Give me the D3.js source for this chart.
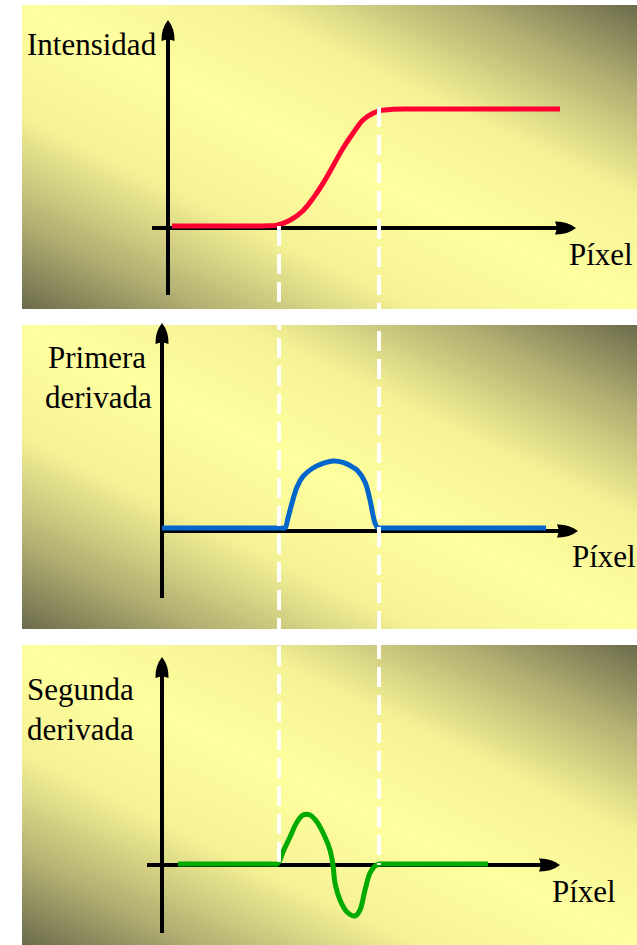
<!DOCTYPE html>
<html>
<head>
<meta charset="utf-8">
<script src="https://cdn.jsdelivr.net/npm/d3@7"></script>
<style>
  body { margin: 0; background: #fff; }
  svg { display: block; }
  text { font-family: 'Liberation Serif', 'Times New Roman', serif; font-size: 31px; fill: #000; }
</style>
</head>
<body>
<svg></svg>
<script>
// position along the pixel profile (shared by the three plots)
const edgeStart = 10;
const edgeEnd = 20;

// intensity profile (0 = dark, 100 = bright)
const intensityX = [-0.7, 5, 9, 9.8, 11.1, 12.4, 13.4, 14.4, 15.4, 16.4, 17.4, 18.4, 19.4, 20.1, 21.4, 23, 38.1];
const intensityY = [1.7, 1.7, 1.8, 2.4, 6.5, 14.5, 24.9, 37.5, 52.1, 67, 79.6, 90.8, 96.4, 98.6, 99.7, 100, 100];

// first derivative
const firstX = [-1.7, 10.2, 10.6, 10.9, 11.3, 11.8, 12.4, 13.4, 14.4, 15.4, 16.4, 17.4, 17.8, 18.6, 19.1, 19.6, 19.9, 20.3, 36.7];
const firstY = [4.3, 4.3, 4.3, 18.6, 40, 62.9, 78, 90, 96.5, 100, 98, 91, 87, 70, 44.3, 11.4, 4.3, 4.3, 4.3];

// second derivative
const secondX = [-0.1, 9.3, 9.8, 10.1, 10.4, 11.1, 11.8, 12.4, 13.1, 13.8, 14.6, 15.1, 15.4, 15.6, 16.1, 16.8, 17.6, 18.1, 18.6, 19.1, 19.6, 20.1, 20.6, 30.9];
const secondY = [2, 2, 2, 10, 26, 56, 86, 100, 100, 86, 56, 30, 0, -36, -70, -94, -102, -90, -50, -16, -2, 2, 2, 2];

const yLabels = [['Intensidad'], ['Primera', 'derivada'], ['Segunda', 'derivada']];
const xLabel = 'Píxel';

const width = 637, height = 945;

const svg = d3.select('svg')
  .attr('width', width)
  .attr('height', height);

const grad = svg.append('defs').append('linearGradient')
  .attr('id', 'bg')
  .attr('x1', 1).attr('y1', 0).attr('x2', 0).attr('y2', 1);
[[0, '#6b6b4c'], [0.15, '#b4b173'], [0.32, '#f5f295'], [0.5, '#ffff9f'],
 [0.68, '#f5f295'], [0.85, '#b4b173'], [1, '#6b6b4c']].forEach(([o, c]) => {
  grad.append('stop').attr('offset', o).attr('stop-color', c);
});

const xScale = d3.scaleLinear().domain([0, 40]).range([179, 579]);

const panels = [
  {top: 5, bottom: 309, y: d3.scaleLinear().domain([0, 100]).range([228, 109]),
   xs: intensityX, ys: intensityY, color: '#ff0033',
   axisX: 168, axisTop: 20, axisBottom: 295, axisFrom: 152, axisTo: 576,
   label: {x: 27, y: 55}, pixel: {x: 569, y: 265}},
  {top: 325, bottom: 629, y: d3.scaleLinear().domain([0, 100]).range([531, 461]),
   xs: firstX, ys: firstY, color: '#0066cc',
   axisX: 162, axisTop: 323, axisBottom: 598, axisFrom: 162, axisTo: 578,
   label: {x: 48, y: 368}, pixel: {x: 572, y: 567}},
  {top: 645, bottom: 945, y: d3.scaleLinear().domain([-100, 100]).range([915, 815]),
   xs: secondX, ys: secondY, color: '#00aa00',
   axisX: 162, axisTop: 657, axisBottom: 933, axisFrom: 147, axisTo: 560,
   label: {x: 27, y: 700}, pixel: {x: 552, y: 902}}
];

// arrow head pointing right with the tip at 0,0
const arrowHead = 'M0,0 Q-9,-7 -21,-6.5 Q-18,0 -21,6.5 Q-9,7 0,0 Z';

panels.forEach((p, i) => {
  const g = svg.append('g');

  g.append('rect')
    .attr('x', 22).attr('y', p.top)
    .attr('width', width - 22).attr('height', p.bottom - p.top)
    .attr('fill', 'url(#bg)');

  const y0 = p.y(0);

  // axes
  g.append('line')
    .attr('x1', p.axisFrom).attr('x2', p.axisTo - 15)
    .attr('y1', y0).attr('y2', y0)
    .attr('stroke', '#000').attr('stroke-width', 4);
  g.append('path')
    .attr('d', arrowHead)
    .attr('transform', `translate(${p.axisTo},${y0})`);

  g.append('line')
    .attr('x1', p.axisX).attr('x2', p.axisX)
    .attr('y1', p.axisTop + 15).attr('y2', p.axisBottom)
    .attr('stroke', '#000').attr('stroke-width', 4);
  g.append('path')
    .attr('d', arrowHead)
    .attr('transform', `translate(${p.axisX},${p.axisTop}) rotate(-90)`);

  const line = d3.line()
    .x(d => xScale(d[0]))
    .y(d => p.y(d[1]))
    .curve(d3.curveCatmullRom.alpha(0.5));

  g.append('path')
    .attr('d', line(d3.zip(p.xs, p.ys)))
    .attr('fill', 'none')
    .attr('stroke', p.color)
    .attr('stroke-width', 5)
    .attr('stroke-linejoin', 'round');

  const lbl = g.append('text')
    .attr('x', p.label.x).attr('y', p.label.y);
  yLabels[i].forEach((t, j) => {
    lbl.append('tspan')
      .attr('x', j === 0 ? p.label.x : p.label.x - (i === 1 ? 3 : 0))
      .attr('dy', j === 0 ? 0 : 40)
      .text(t);
  });

  g.append('text')
    .attr('x', p.pixel.x).attr('y', p.pixel.y)
    .text(xLabel);
});

// dashed guides at the edge limits, running down to the last axis
const last = panels[2].y(0);
[[edgeStart, panels[0].y(0) - 2], [edgeEnd, panels[0].y(100) - 2]].forEach(([e, top]) => {
  svg.append('line')
    .attr('x1', xScale(e)).attr('x2', xScale(e))
    .attr('y1', top).attr('y2', last)
    .attr('stroke', '#fff')
    .attr('stroke-width', 4)
    .attr('stroke-dasharray', '20 8');
});
</script>
</body>
</html>
